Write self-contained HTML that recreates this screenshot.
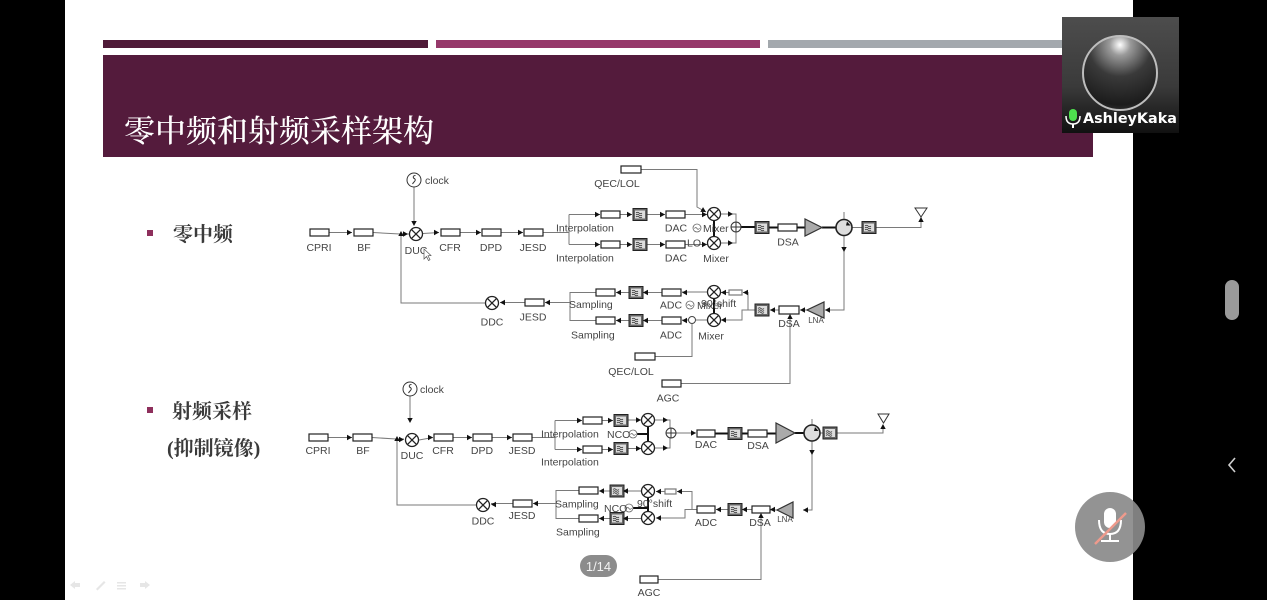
<!DOCTYPE html>
<html><head><meta charset="utf-8">
<style>
html,body{margin:0;padding:0;background:#000;}
body{width:1267px;height:600px;overflow:hidden;}
svg{display:block;}
.b{fill:#fff;stroke:#222;stroke-width:1.2;}
.l{stroke:#7a7a7a;fill:none;stroke-width:1;}
.k{stroke:#111;fill:none;stroke-width:2;}
.t{font-family:"Liberation Sans",sans-serif;font-size:10.5px;fill:#444;}
.c{text-anchor:middle;}
</style></head><body>
<svg width="1267" height="600" viewBox="0 0 1267 600" xmlns="http://www.w3.org/2000/svg">
<defs>
<g id="ar"><polygon points="0,0 -5,-2.7 -5,2.7" fill="#111"/></g>
<g id="mx"><circle r="6.5" fill="#fff" stroke="#222" stroke-width="1.3"/><path d="M-4.6,-4.6L4.6,4.6M4.6,-4.6L-4.6,4.6" stroke="#222" stroke-width="1.3"/></g>
<g id="fl"><rect x="0" y="0" width="14" height="12" fill="#666" stroke="#222"/><rect x="2" y="2" width="10" height="8" fill="#ddd"/><path d="M3,4.5q1.5,-1.5 3,0t3,0M3,6.5q1.5,-1.5 3,0t3,0M3,8.5q1.5,-1.5 3,0t3,0" stroke="#222" fill="none" stroke-width=".8"/></g>
<g id="sum"><circle r="5" fill="#fff" stroke="#333" stroke-width="1"/><path d="M-5,0H5M0,-5V5" stroke="#333" stroke-width="1"/></g>
<g id="circ"><circle r="8" fill="#ddd" stroke="#222" stroke-width="1.6"/><polygon points="3,-6 6.5,-2 2,-2" fill="#111"/></g>
<g id="lo"><circle r="4" fill="none" stroke="#666" stroke-width=".8"/><path d="M-2.5,0.5q1.2,-2 2.5,0t2.5,-0.5" stroke="#666" fill="none" stroke-width=".8"/></g>
<g id="clk"><circle r="7" fill="#fff" stroke="#333" stroke-width="1"/><path d="M1.5,-4.5q-3,0 -2,2.5q3,1.5 1,3.5q-1.5,1.5 -2,2.5" stroke="#333" fill="none" stroke-width="1"/></g>
<linearGradient id="vg" x1="0" y1="0" x2="0" y2="1"><stop offset="0" stop-color="#4d4d4d"/><stop offset=".6" stop-color="#3a3a3a"/><stop offset="1" stop-color="#111"/></linearGradient>
<radialGradient id="cg" cx=".5" cy=".12" r=".95"><stop offset="0" stop-color="#ffffff"/><stop offset=".15" stop-color="#9a9a9a"/><stop offset=".45" stop-color="#3a3a3a"/><stop offset=".85" stop-color="#1c1c1c"/><stop offset="1" stop-color="#3a3a3a"/></radialGradient>
</defs>

<!-- slide background -->
<rect x="65" y="0" width="1068" height="600" fill="#fff"/>
<rect x="103" y="40" width="325" height="8" fill="#4f1a38"/>
<rect x="436" y="40" width="324" height="8" fill="#96386a"/>
<rect x="768" y="40" width="325" height="8" fill="#a3a8ad"/>
<rect x="103" y="55" width="990" height="102" fill="#541b3c"/>
<text x="124" y="142" style="font-family:'Liberation Serif','Noto Serif CJK SC',serif;font-size:31px;fill:#fff;font-weight:500;">零中频和射频采样架构</text>

<!-- bullets -->
<rect x="147" y="230" width="6" height="6" fill="#8e2f5c"/>
<rect x="147" y="407" width="6" height="6" fill="#8e2f5c"/>
<g style="font-family:'Liberation Serif','Noto Serif CJK SC',serif;font-size:20px;fill:#3a3a3a;font-weight:bold;">
<text x="173" y="241">零中频</text>
<text x="172" y="418">射频采样</text>
<text x="167" y="455">(抑制镜像)</text>
</g>

<!-- ================= TOP DIAGRAM ================= -->
<g class="l">
<path d="M329,232.5H352"/>
<path d="M373,232.5L400,234H409"/>
<path d="M485,303H401V235"/>
<path d="M414,187V225"/>
<path d="M423,233.5L439,232.5"/>
<path d="M460,232.5H481M501,232.5H523"/>
<path d="M543,232.5H569M569,214.5V244.5M569,214.5H600M569,244.5H600"/>
<path d="M620,214.5H632M647,214.5H665M620,244.5H632M647,244.5H665"/>
<path d="M685,214.5H707M685,244.5H707"/>
<path d="M641,169.5H697V207L706,212"/>
<path d="M721,214H736V222M721,243H736V232"/>
<path d="M876,227.5H921V217"/>
<path d="M844,212V219M844,236V310H825"/>
<path d="M807,310H800"/>
<path d="M681,383.5H790V315"/>
<path d="M779,310H770M755,310H748V292.5H743M748,310H742V320H721"/>
<path d="M729,292.5H721M707,292H682M707,320H682"/>
<path d="M655,356.5H692V324"/>
<path d="M662,292.5H643M629,292.5H616M662,320.5H643M629,320.5H616"/>
<path d="M596,292.5H570V320.5H596M570,302.5H545"/>
<path d="M525,302.5H500"/>
</g>
<g class="k">
<path d="M741,227H755M769,227.5H778M797,227.5H805M822,227.5H836"/>
<path d="M714,221V236M714,299V313"/>
</g>
<path d="M852,227.5H862" class="l"/>
<!-- boxes -->
<rect class="b" x="310" y="229" width="19" height="7"/>
<rect class="b" x="354" y="229" width="19" height="7"/>
<rect class="b" x="441" y="229" width="19" height="7"/>
<rect class="b" x="482" y="229" width="19" height="7"/>
<rect class="b" x="524" y="229" width="19" height="7"/>
<rect class="b" x="601" y="211" width="19" height="7"/>
<rect class="b" x="601" y="241" width="19" height="7"/>
<rect class="b" x="666" y="211" width="19" height="7"/>
<rect class="b" x="666" y="241" width="19" height="7"/>
<rect class="b" x="621" y="166" width="20" height="7"/>
<rect class="b" x="778" y="224" width="19" height="7"/>
<rect class="b" x="779" y="306" width="20" height="8"/>
<rect class="b" x="729" y="290" width="13" height="5" style="stroke:#777"/>
<rect class="b" x="662" y="289" width="19" height="7"/>
<rect class="b" x="662" y="317" width="19" height="7"/>
<rect class="b" x="596" y="289" width="19" height="7"/>
<rect class="b" x="596" y="317" width="19" height="7"/>
<rect class="b" x="525" y="299" width="19" height="7"/>
<rect class="b" x="635" y="353" width="20" height="7"/>
<rect class="b" x="662" y="380" width="19" height="7"/>
<!-- components -->
<use href="#mx" x="416" y="234"/>
<use href="#mx" x="714" y="214"/>
<use href="#mx" x="714" y="243"/>
<use href="#mx" x="714" y="292"/>
<use href="#mx" x="714" y="320"/>
<use href="#mx" x="492" y="303"/>
<use href="#fl" x="633" y="208.5"/>
<use href="#fl" x="633" y="238.5"/>
<use href="#fl" x="755" y="221.5"/>
<use href="#fl" x="862" y="221.5"/>
<use href="#fl" x="755" y="304"/>
<use href="#fl" x="629" y="286.5"/>
<use href="#fl" x="629" y="314.5"/>
<use href="#sum" x="736" y="227"/>
<polygon points="805,219 805,236 822,227.5" fill="#aaa" stroke="#333" stroke-width="1.2"/>
<use href="#circ" x="844" y="227.5"/>
<polygon points="824,302 824,318 807,310" fill="#aaa" stroke="#333" stroke-width="1.2"/>
<polygon points="915,208 927,208 921,217" fill="none" stroke="#333" stroke-width="1"/>
<use href="#clk" x="414" y="180"/>
<use href="#lo" x="697" y="228"/>
<use href="#lo" x="690" y="305"/>
<circle cx="692" cy="320" r="3.5" fill="#fff" stroke="#444" stroke-width="1"/>
<!-- arrows top -->
<use href="#ar" transform="translate(352,232.5)"/>
<use href="#ar" transform="translate(401,231) rotate(-90)"/>
<use href="#ar" transform="translate(408,234)"/>
<use href="#ar" transform="translate(414,226) rotate(90)"/>
<use href="#ar" transform="translate(439,232.5)"/>
<use href="#ar" transform="translate(481,232.5)"/>
<use href="#ar" transform="translate(523,232.5)"/>
<use href="#ar" transform="translate(600,214.5)"/>
<use href="#ar" transform="translate(600,244.5)"/>
<use href="#ar" transform="translate(632,214.5)"/>
<use href="#ar" transform="translate(632,244.5)"/>
<use href="#ar" transform="translate(665,214.5)"/>
<use href="#ar" transform="translate(665,244.5)"/>
<use href="#ar" transform="translate(707,214.5)"/>
<use href="#ar" transform="translate(707,244.5)"/>
<use href="#ar" transform="translate(706,212) rotate(30)"/>
<use href="#ar" transform="translate(733,214)"/>
<use href="#ar" transform="translate(733,243)"/>
<use href="#ar" transform="translate(921,217) rotate(-90)"/>
<use href="#ar" transform="translate(844,252) rotate(90)"/>
<use href="#ar" transform="translate(825,310) rotate(180)"/>
<use href="#ar" transform="translate(800,310) rotate(180)"/>
<use href="#ar" transform="translate(790,314) rotate(-90)"/>
<use href="#ar" transform="translate(770,310) rotate(180)"/>
<use href="#ar" transform="translate(743,292.5) rotate(180)"/>
<use href="#ar" transform="translate(721,292.5) rotate(180)"/>
<use href="#ar" transform="translate(721,320) rotate(180)"/>
<use href="#ar" transform="translate(682,292.5) rotate(180)"/>
<use href="#ar" transform="translate(682,320.5) rotate(180)"/>
<use href="#ar" transform="translate(643,292.5) rotate(180)"/>
<use href="#ar" transform="translate(643,320.5) rotate(180)"/>
<use href="#ar" transform="translate(616,292.5) rotate(180)"/>
<use href="#ar" transform="translate(616,320.5) rotate(180)"/>
<use href="#ar" transform="translate(545,302.5) rotate(180)"/>
<use href="#ar" transform="translate(500,302.5) rotate(180)"/>
<!-- labels top -->
<g class="t">
<text x="425" y="184">clock</text>
<text class="c" x="319" y="251">CPRI</text>
<text class="c" x="364" y="251">BF</text>
<text class="c" x="416" y="254">DUC</text>
<text class="c" x="450" y="251">CFR</text>
<text class="c" x="491" y="251">DPD</text>
<text class="c" x="533" y="251">JESD</text>
<text x="556" y="231.5">Interpolation</text>
<text x="556" y="261.5">Interpolation</text>
<text class="c" x="676" y="231.5">DAC</text>
<text class="c" x="676" y="261.5">DAC</text>
<text class="c" x="617" y="187">QEC/LOL</text>
<text x="703" y="232">Mixer</text>
<text x="687" y="246.5">LO</text>
<text class="c" x="716" y="262">Mixer</text>
<text class="c" x="788" y="245.5">DSA</text>
<text class="c" x="789" y="327">DSA</text>
<text x="701" y="307">90°shift</text>
<text x="697" y="309">Mixer</text>
<text class="c" x="671" y="308.5">ADC</text>
<text class="c" x="671" y="338.5">ADC</text>
<text class="c" x="711" y="339.5">Mixer</text>
<text x="569" y="308">Sampling</text>
<text x="571" y="338.5">Sampling</text>
<text class="c" x="533" y="320.5">JESD</text>
<text class="c" x="492" y="325.5">DDC</text>
<text class="c" x="631" y="375">QEC/LOL</text>
<text class="c" x="668" y="401.5">AGC</text>
<text class="c" x="816" y="323" style="font-size:8px">LNA</text>
</g>
<!-- cursor -->
<path d="M424,249L424,259L426.5,256.5L428.5,260.5L430,259.7L428,255.8L431,255.5Z" fill="#fff" stroke="#555" stroke-width=".7"/>

<!-- ================= BOTTOM DIAGRAM ================= -->
<g class="l">
<path d="M328,437.5H352"/>
<path d="M372,437.5L396,439H404"/>
<path d="M476,505H397V440"/>
<path d="M410,396V422"/>
<path d="M419,440L433,437.5"/>
<path d="M453,437.5H472M492,437.5H512"/>
<path d="M532,437.5H555M555,420.5V449.5M555,420.5H582M555,449.5H582"/>
<path d="M602,420.5H613M602,449.5H613M628,420H641M628,448.5H641"/>
<path d="M655,420H670V428M655,448H670V438"/>
<path d="M676,433H696"/>
<path d="M837,433H883V425"/>
<path d="M812,425V419M812,441V510H803"/>
<path d="M777,510H770"/>
<path d="M658,579.5H761V514"/>
<path d="M752,509.5H742M728,509.5H716M697,509.5H692V491.5H677M692,509.5H685V518H656M665,491.5H656"/>
<path d="M641,491H623M610,491H599M641,518.5H623M610,518.5H599"/>
<path d="M579,490.5H556V518.5H579M556,503.5H533M513,503.5H491"/>
</g>
<g class="k">
<path d="M715,433.5H728M742,433.5H748M767,433.5H776M795,433H804"/>
<path d="M637,434H648M648,427V441M633,508H648M648,498V511"/>
</g>
<path d="M820,433H823" class="l"/>
<rect class="b" x="309" y="434" width="19" height="7"/>
<rect class="b" x="353" y="434" width="19" height="7"/>
<rect class="b" x="434" y="434" width="19" height="7"/>
<rect class="b" x="473" y="434" width="19" height="7"/>
<rect class="b" x="513" y="434" width="19" height="7"/>
<rect class="b" x="583" y="417" width="19" height="7"/>
<rect class="b" x="583" y="446" width="19" height="7"/>
<rect class="b" x="697" y="430" width="18" height="7"/>
<rect class="b" x="748" y="430" width="19" height="7"/>
<rect class="b" x="752" y="506" width="18" height="7"/>
<rect class="b" x="697" y="506" width="18" height="7"/>
<rect class="b" x="665" y="489" width="11" height="5" style="stroke:#777"/>
<rect class="b" x="579" y="487" width="19" height="7"/>
<rect class="b" x="579" y="515" width="19" height="7"/>
<rect class="b" x="513" y="500" width="19" height="7"/>
<rect class="b" x="640" y="576" width="18" height="7"/>
<use href="#mx" x="412" y="440"/>
<use href="#mx" x="648" y="420"/>
<use href="#mx" x="648" y="448"/>
<use href="#mx" x="648" y="491"/>
<use href="#mx" x="648" y="518"/>
<use href="#mx" x="483" y="505"/>
<use href="#fl" x="614" y="414.5"/>
<use href="#fl" x="614" y="442.5"/>
<use href="#fl" x="728" y="427.5"/>
<use href="#fl" x="823" y="427"/>
<use href="#fl" x="728" y="503.5"/>
<use href="#fl" x="610" y="485"/>
<use href="#fl" x="610" y="512.5"/>
<use href="#sum" x="671" y="433"/>
<polygon points="776,423 776,443 795,433" fill="#aaa" stroke="#333" stroke-width="1.2"/>
<use href="#circ" x="812" y="433"/>
<polygon points="793,502 793,518 777,510" fill="#aaa" stroke="#333" stroke-width="1.2"/>
<polygon points="878,414 889,414 883.5,423" fill="none" stroke="#333" stroke-width="1"/>
<use href="#clk" x="410" y="389"/>
<use href="#lo" x="633" y="434"/>
<use href="#lo" x="629" y="508"/>
<use href="#ar" transform="translate(352,437.5)"/>
<use href="#ar" transform="translate(397,436) rotate(-90)"/>
<use href="#ar" transform="translate(404,439.5)"/>
<use href="#ar" transform="translate(410,423) rotate(90)"/>
<use href="#ar" transform="translate(433,437.5)"/>
<use href="#ar" transform="translate(472,437.5)"/>
<use href="#ar" transform="translate(512,437.5)"/>
<use href="#ar" transform="translate(582,420.5)"/>
<use href="#ar" transform="translate(582,449.5)"/>
<use href="#ar" transform="translate(613,420.5)"/>
<use href="#ar" transform="translate(613,449.5)"/>
<use href="#ar" transform="translate(641,420)"/>
<use href="#ar" transform="translate(641,448.5)"/>
<use href="#ar" transform="translate(668,420)"/>
<use href="#ar" transform="translate(668,448)"/>
<use href="#ar" transform="translate(696,433)"/>
<use href="#ar" transform="translate(883,424) rotate(-90)"/>
<use href="#ar" transform="translate(812,455) rotate(90)"/>
<use href="#ar" transform="translate(803,510) rotate(180)"/>
<use href="#ar" transform="translate(770,509.5) rotate(180)"/>
<use href="#ar" transform="translate(761,513) rotate(-90)"/>
<use href="#ar" transform="translate(742,509.5) rotate(180)"/>
<use href="#ar" transform="translate(716,509.5) rotate(180)"/>
<use href="#ar" transform="translate(677,491.5) rotate(180)"/>
<use href="#ar" transform="translate(656,491.5) rotate(180)"/>
<use href="#ar" transform="translate(656,518) rotate(180)"/>
<use href="#ar" transform="translate(623,491) rotate(180)"/>
<use href="#ar" transform="translate(623,518.5) rotate(180)"/>
<use href="#ar" transform="translate(599,491) rotate(180)"/>
<use href="#ar" transform="translate(599,518.5) rotate(180)"/>
<use href="#ar" transform="translate(533,503.5) rotate(180)"/>
<use href="#ar" transform="translate(491,504.5) rotate(180)"/>
<g class="t">
<text x="420" y="393">clock</text>
<text class="c" x="318" y="454">CPRI</text>
<text class="c" x="363" y="454">BF</text>
<text class="c" x="412" y="459">DUC</text>
<text class="c" x="443" y="454">CFR</text>
<text class="c" x="482" y="454">DPD</text>
<text class="c" x="522" y="454">JESD</text>
<text x="541" y="437.5">Interpolation</text>
<text x="541" y="465.5">Interpolation</text>
<text x="607" y="438">NCO</text>
<text class="c" x="706" y="448">DAC</text>
<text class="c" x="758" y="449">DSA</text>
<text class="c" x="760" y="526">DSA</text>
<text class="c" x="706" y="526">ADC</text>
<text x="637" y="507">90°shift</text>
<text x="604" y="512">NCO</text>
<text x="555" y="507.5">Sampling</text>
<text x="556" y="535.5">Sampling</text>
<text class="c" x="522" y="519">JESD</text>
<text class="c" x="483" y="524.5">DDC</text>
<text class="c" x="649" y="596">AGC</text>
<text class="c" x="785" y="522" style="font-size:8px">LNA</text>
</g>

<!-- page indicator -->
<rect x="580" y="555" width="37" height="22" rx="11" fill="#8c8c8c"/>
<text x="598.5" y="571" text-anchor="middle" style="font-family:'Liberation Sans',sans-serif;font-size:13px;fill:#f2f2f2;">1/14</text>

<!-- bottom-left faint toolbar -->
<g fill="#e6e6e6">
<path d="M70,585l5,-4v2h5v4h-5v2z"/>
<path d="M96,589l8,-8l1.5,1.5l-8,8z"/>
<rect x="117" y="582" width="9" height="1.5"/><rect x="117" y="585" width="9" height="1.5"/><rect x="117" y="588" width="9" height="1.5"/>
<path d="M150,585l-5,-4v2h-5v4h5v2z"/>
</g>

<!-- video thumbnail -->
<rect x="1062" y="17" width="117" height="116" fill="url(#vg)"/>
<circle cx="1120" cy="73" r="37" fill="url(#cg)" stroke="#bdbdbd" stroke-width="2"/>
<rect x="1069" y="109" width="8" height="12" rx="4" fill="#4ee04e"/>
<path d="M1066,116q0,8 7,8q7,0 7,-8" fill="none" stroke="#fff" stroke-width="1.5"/>
<rect x="1072" y="124" width="2" height="4" fill="#fff"/>
<text x="1083" y="123" textLength="94" lengthAdjust="spacingAndGlyphs" style="font-family:'DejaVu Sans','Liberation Sans',sans-serif;font-size:14px;font-weight:bold;fill:#fff;">AshleyKaka</text>

<!-- right side UI -->
<rect x="1225" y="280" width="14" height="40" rx="7" fill="#9a9a9a"/>
<path d="M1235,458L1229,465L1235,472" fill="none" stroke="#cfcfcf" stroke-width="1.6"/>
<circle cx="1110" cy="527" r="35" fill="#8a8a8a" fill-opacity=".92"/>
<rect x="1104" y="508" width="12" height="20" rx="6" fill="#fff"/>
<path d="M1099,520q0,14 11,14q11,0 11,-14" fill="none" stroke="#fff" stroke-width="2"/>
<rect x="1109" y="534" width="2" height="6" fill="#fff"/>
<rect x="1101" y="540" width="18" height="2" fill="#fff"/>
<path d="M1095,544L1126,513" stroke="#ee9a8c" stroke-width="2.5"/>
</svg>
</body></html>
